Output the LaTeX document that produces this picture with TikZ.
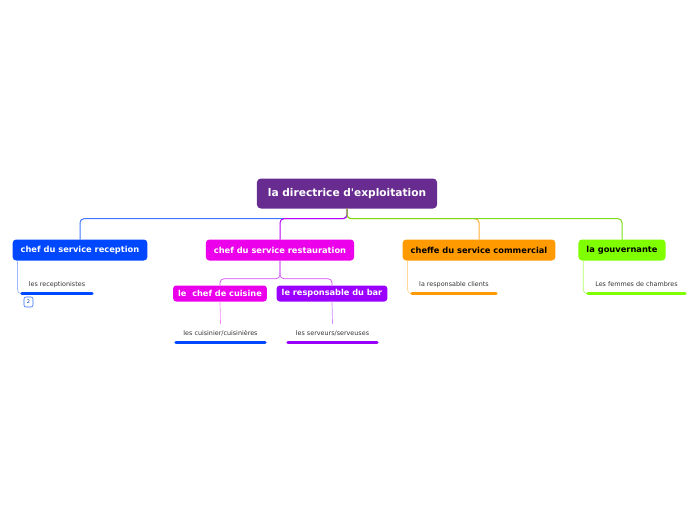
\documentclass[tikz,border=0pt]{standalone}
\usepackage{fontspec}
\setmainfont{DejaVu Sans}
\usetikzlibrary{calc,positioning}
\definecolor{mmRoot}{HTML}{682C90}
\definecolor{mmBlue}{HTML}{0048FF}
\definecolor{mmMagenta}{HTML}{EC00EC}
\definecolor{mmOrange}{HTML}{FF9A00}
\definecolor{mmGreen}{HTML}{80FF00}
\definecolor{mmViolet}{HTML}{9B00FF}
\definecolor{mmText}{HTML}{333333}
\tikzset{
 mindmap/.style={x=1pt,y=-1pt,line cap=round,line join=round},
 rootbox/.style={rounded corners=4pt,fill=mmRoot,text=white,font=\fontsize{10.6}{12}\selectfont\bfseries,
   minimum height=30pt,inner xsep=11pt,inner ysep=0pt},
 topic/.style={rounded corners=3.5pt,fill=#1,text=white,font=\fontsize{8.3}{10}\selectfont\bfseries,
   minimum height=21pt,inner xsep=8pt,inner ysep=0pt},
 subtopic/.style={rounded corners=3pt,fill=#1,text=white,font=\fontsize{8.2}{10}\selectfont\bfseries,
   minimum height=16pt,inner xsep=5pt,inner ysep=0pt},
 leaf/.style={font=\fontsize{6.4}{8}\selectfont,text=mmText,minimum height=18pt,inner sep=0pt,minimum width=#1},
 uline/.style={draw=#1,line width=3pt},
 link/.style={draw=#1,line width=1pt,rounded corners=4pt},
 twig/.style={draw=#1,line width=.7pt,rounded corners=4pt},
 badge/.style={draw=mmBlue!80,fill=white,rounded corners=2pt,line width=.6pt,minimum width=9pt,minimum height=10pt,
   inner sep=0pt,font=\fontsize{5}{6}\selectfont,text=mmBlue!70!black}
}
\begin{document}
\begin{tikzpicture}[mindmap]
 \useasboundingbox (0,0) rectangle (696,520);
 % root and first level
 \node[rootbox] (root) at (347,193.5) {la directrice d\textquotesingle exploitation};
 \node[topic=mmBlue] (reception) at (80,250) {chef du service reception};
 \node[topic=mmMagenta] (restau) at (280,250) {chef du service restauration};
 \node[topic=mmOrange,text=black] (commercial) at (479,250) {cheffe du service commercial};
 \node[topic=mmGreen,text=black] (gouv) at (622,250) {la gouvernante};
 \draw[link=mmBlue!75] (root.south) -- ++(0,10) -| (reception.north);
 \draw[link=mmOrange!80] (root.south) -- ++(0,10) -| (commercial.north);
 \draw[link=mmMagenta!40!mmViolet] (root.south) -- ++(0,10) -| (restau.north);
 \draw[link=mmGreen!85!black!90] (root.south) -- ++(0,10) -| (gouv.north);
 % restauration
 \node[subtopic=mmMagenta] (cuisine) at (220,293.5) {le\ \ chef de cuisine};
 \node[subtopic=mmViolet] (bar) at (332,293.5) {le responsable du bar};
 \draw[twig=mmMagenta!45!mmViolet!70] (restau.south) -- ++(0,18) -| (cuisine.north);
 \draw[twig=mmMagenta!45!mmViolet!70] (restau.south) -- ++(0,18) -| (bar.north);
 % leaves
 \node[leaf=70pt] (recep1) at (57,284.5) {les receptionistes};
 \node[leaf=84pt] (comm1) at (454,284.5) {la responsable clients};
 \node[leaf=97pt] (gouv1) at (636.5,284.5) {Les femmes de chambres};
 \node[leaf=89pt] (cuis1) at (220.5,333) {les cuisinier/cuisinières};
 \node[leaf=89pt] (bar1) at (332.5,333) {les serveurs/serveuses};
 \draw[twig=mmBlue!40] ([xshift=5pt]reception.south west) |- (recep1.south west);
 \draw[twig=mmOrange!40] ([xshift=5pt]commercial.south west) |- (comm1.south west);
 \draw[twig=mmGreen!60] ([xshift=5pt]gouv.south west) |- (gouv1.south west);
 \draw[twig=mmMagenta!45] (cuisine.south) -- (cuis1.north);
 \draw[twig=mmViolet!45] (bar.south) -- (bar1.north);
 \draw[uline=mmBlue] (recep1.south west) -- (recep1.south east);
 \draw[uline=mmOrange] (comm1.south west) -- (comm1.south east);
 \draw[uline=mmGreen] (gouv1.south west) -- (gouv1.south east);
 \draw[uline=mmBlue] (cuis1.south west) -- (cuis1.south east);
 \draw[uline=mmViolet] (bar1.south west) -- (bar1.south east);
 \node[badge] (count) at (28.5,302) {2};
\end{tikzpicture}
\end{document}
